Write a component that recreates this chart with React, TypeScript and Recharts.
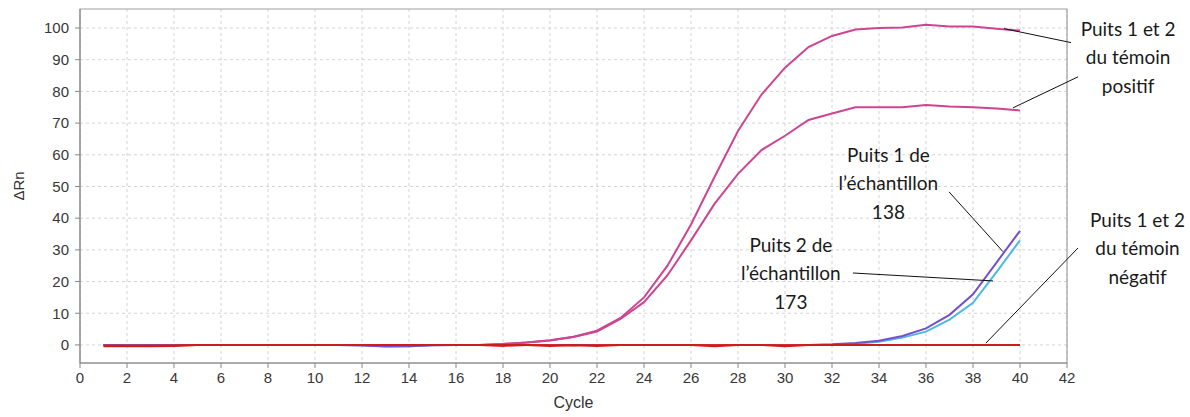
import {
  LineChart,
  Line,
  XAxis,
  YAxis,
  CartesianGrid,
  ReferenceArea,
  ReferenceLine,
  ReferenceDot,
} from "recharts";

const cycles = [
  1, 2, 3, 4, 5, 6, 7, 8, 9, 10, 11, 12, 13, 14, 15, 16, 17, 18, 19, 20,
  21, 22, 23, 24, 25, 26, 27, 28, 29, 30, 31, 32, 33, 34, 35, 36, 37, 38, 39, 40,
];

// témoin positif
const positiveWell1 = [
  0, 0, 0, 0, 0, 0, 0, 0, 0, 0,
  0, 0, 0, 0, 0, 0, 0, 0.3, 0.8, 1.5,
  2.6, 4.5, 8.5, 15, 25, 38, 53, 67.5, 79, 87.5,
  94, 97.5, 99.5, 100, 100.2, 101, 100.5, 100.5, 99.8, 99.2,
];
const positiveWell2 = [
  0, 0, 0, 0, 0, 0, 0, 0, 0, 0,
  0, 0, 0, 0, 0, 0, 0, 0.3, 0.8, 1.4,
  2.5, 4.2, 8.2, 13.5, 22, 33, 44.5, 54, 61.5, 66,
  71, 73, 75, 75, 75, 75.7, 75.2, 75, 74.6, 74,
];

// échantillons
const sample138 = [
  0, 0, 0, 0, 0, 0, 0, 0, 0, 0,
  0, -0.2, -0.5, -0.4, -0.1, 0, 0, 0, 0, 0,
  0, 0, 0, 0, 0, 0, 0, 0, 0, 0,
  0, 0.2, 0.6, 1.3, 2.8, 5.2, 9.5, 16, 26, 36,
];
const sample173 = [
  0, 0, 0, 0, 0, 0, 0, 0, 0, 0,
  0, -0.1, -0.4, -0.4, -0.1, 0, 0, 0, 0, 0,
  0, 0, 0, 0, 0, 0, 0, 0, 0, 0,
  0, 0, 0.4, 1.0, 2.3, 4.2, 8, 13.3, 23, 33,
];

// témoin négatif
const negativeWell1 = [
  -0.4, -0.4, -0.4, -0.3, 0, 0, 0, 0, 0, 0,
  0, 0, 0, 0, 0, 0, 0, 0, 0, -0.3,
  0, -0.3, 0, 0, 0, 0, -0.4, 0, 0, -0.4,
  0, 0, 0, 0, 0, 0, 0, 0, 0, 0,
];
const negativeWell2 = [
  -0.2, -0.2, -0.2, -0.1, 0, 0, 0, 0, 0, 0,
  0, 0, 0, 0, 0, 0, 0, -0.3, 0, 0,
  -0.2, 0, 0, 0, 0, 0, 0, 0, 0, 0,
  0, 0, 0, 0, 0, 0, 0, 0, 0, 0,
];

const xTicks = [0, 2, 4, 6, 8, 10, 12, 14, 16, 18, 20, 22, 24, 26, 28, 30, 32, 34, 36, 38, 40, 42];
const yTicks = [0, 10, 20, 30, 40, 50, 60, 70, 80, 90, 100];

const X_MIN = 0;
const X_MAX = 42;
const Y_MIN = -5.7;
const Y_MAX = 106;

// annotations (data coordinates)
const labels = [
  { lines: ["Puits 1 et 2", "du témoin", "positif"], x: 44.6, y: 90.9 },
  { lines: ["Puits 1 de", "l’échantillon", "138"], x: 34.4, y: 51.2 },
  { lines: ["Puits 2 de", "l’échantillon", "173"], x: 30.25, y: 22.7 },
  { lines: ["Puits 1 et 2", "du témoin", "négatif"], x: 45.0, y: 30.6 },
];

const leaders = [
  [{ x: 42.17, y: 95.4 }, { x: 39.32, y: 99.8 }],
  [{ x: 42.47, y: 84.6 }, { x: 39.7, y: 74.8 }],
  [{ x: 36.98, y: 48.3 }, { x: 39.28, y: 29.4 }],
  [{ x: 32.89, y: 22.7 }, { x: 38.85, y: 20.2 }],
  [{ x: 42.47, y: 30.6 }, { x: 38.55, y: 0.6 }],
];

const data = cycles.map((c, i) => ({
  cycle: c,
  pos1: positiveWell1[i],
  pos2: positiveWell2[i],
  s138: sample138[i],
  s173: sample173[i],
  neg1: negativeWell1[i],
  neg2: negativeWell2[i],
}));

const tickStyle = { fontSize: 15, fill: "#383838", fontFamily: "Liberation Sans, Arial, sans-serif" };

const MultiLineLabel = (props: any) => {
  const { viewBox, lines } = props;
  const lh = 28.5;
  const cx = viewBox.x;
  const top = viewBox.y - lh;
  return (
    <text
      textAnchor="middle"
      fontFamily="Lato, 'Open Sans', sans-serif"
      fontSize={19}
      fill="#1a1a1a"
    >
      {lines.map((t: string, k: number) => (
        <tspan key={k} x={cx} y={top + k * lh} dominantBaseline="central">
          {t}
        </tspan>
      ))}
    </text>
  );
};

const App = () => {
  return (
    <div style={{ position: "absolute", left: 0, top: 0, width: 1190, height: 417, background: "#fff" }}>
      <LineChart
        width={1190}
        height={417}
        data={data}
        margin={{ top: 9, right: 123, bottom: 0, left: 5 }}
      >
        <CartesianGrid stroke="#d4d4d4" strokeDasharray="3 3" verticalValues={xTicks} horizontalValues={yTicks} />
        <ReferenceArea
          x1={X_MIN}
          x2={X_MAX}
          y1={Y_MIN}
          y2={Y_MAX}
          fill="none"
          fillOpacity={0}
          stroke="#a0a0a0"
          strokeWidth={1.2}
          ifOverflow="visible"
        />
        <XAxis
          dataKey="cycle"
          type="number"
          domain={[X_MIN, X_MAX]}
          ticks={xTicks}
          allowDataOverflow
          height={54}
          tick={tickStyle}
          tickSize={5}
          tickMargin={4}
          stroke="#888"
          label={{
            content: (p: any) => (
              <text
                x={p.viewBox.x + p.viewBox.width / 2}
                y={402}
                textAnchor="middle"
                dominantBaseline="central"
                fontSize={16}
                fill="#333"
                fontFamily="Liberation Sans, Arial, sans-serif"
              >
                Cycle
              </text>
            ),
          }}
        />
        <YAxis
          type="number"
          domain={[Y_MIN, Y_MAX]}
          ticks={yTicks}
          allowDataOverflow
          width={75}
          tick={tickStyle}
          tickSize={5}
          tickMargin={6}
          stroke="#888"
          label={{
            content: (p: any) => {
              const x = p.viewBox.x + 13;
              const y = p.viewBox.y + p.viewBox.height / 2;
              return (
                <text
                  x={x}
                  y={y}
                  transform={`rotate(-90, ${x}, ${y})`}
                  textAnchor="middle"
                  dominantBaseline="central"
                  fontSize={15}
                  fill="#333"
                  fontFamily="Liberation Sans, Arial, sans-serif"
                >
                  ΔRn
                </text>
              );
            },
          }}
        />
        <Line type="linear" dataKey="pos1" stroke="#cc4592" strokeWidth={2} dot={false} isAnimationActive={false} />
        <Line type="linear" dataKey="pos2" stroke="#cc4592" strokeWidth={2} dot={false} isAnimationActive={false} />
        <Line type="linear" dataKey="s173" stroke="#4bb8e6" strokeWidth={2} dot={false} isAnimationActive={false} />
        <Line type="linear" dataKey="s138" stroke="#7650c8" strokeWidth={2} dot={false} isAnimationActive={false} />
        <Line type="linear" dataKey="neg2" stroke="#d42a2a" strokeWidth={2} dot={false} isAnimationActive={false} />
        <Line type="linear" dataKey="neg1" stroke="#c81e1e" strokeWidth={2} dot={false} isAnimationActive={false} />
        {leaders.map((seg, i) => (
          <ReferenceLine key={`l${i}`} segment={seg} stroke="#111" strokeWidth={1} ifOverflow="visible" />
        ))}
        {labels.map((a, i) => (
          <ReferenceDot
            key={`a${i}`}
            x={a.x}
            y={a.y}
            r={0}
            fill="none"
            stroke="none"
            ifOverflow="visible"
            label={(p: any) => <MultiLineLabel {...p} lines={a.lines} />}
          />
        ))}
      </LineChart>
    </div>
  );
};

export default App;
